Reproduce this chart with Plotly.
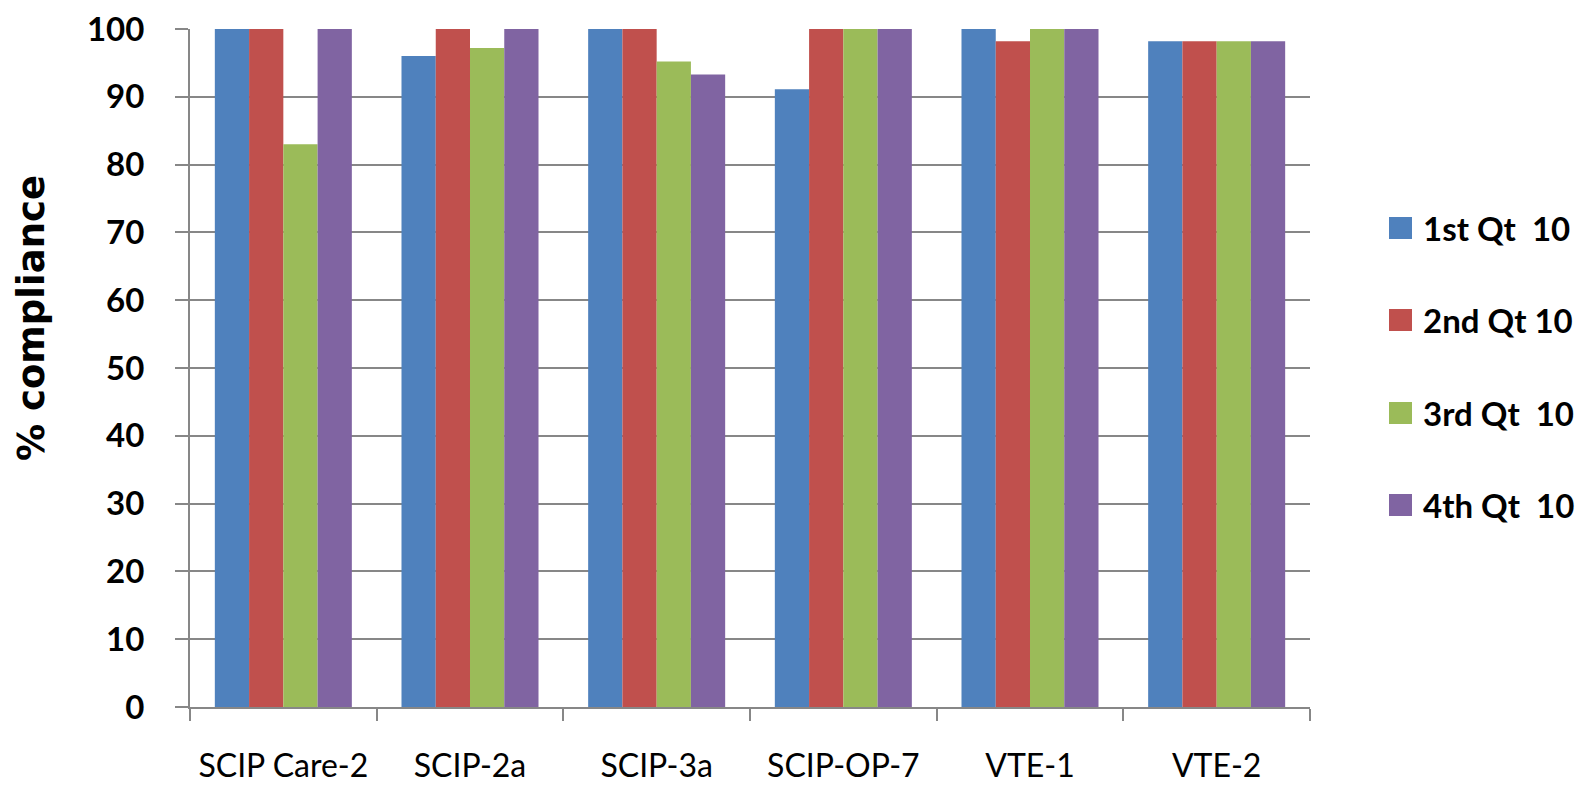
import plotly.graph_objects as go

# Core measure categories and quarterly compliance (%)
measures = ["SCIP Care-2", "SCIP-2a", "SCIP-3a", "SCIP-OP-7", "VTE-1", "VTE-2"]
quarters = ["1st Qt  10", "2nd Qt 10", "3rd Qt  10", "4th Qt  10"]
q1 = [100, 96.0, 100, 91.1, 100, 98.2]
q2 = [100, 100, 100, 100, 98.2, 98.2]
q3 = [83.0, 97.2, 95.2, 100, 100, 98.2]
q4 = [100, 100, 93.3, 100, 100, 98.2]
y_ticks = [0, 10, 20, 30, 40, 50, 60, 70, 80, 90, 100]

series = [q1, q2, q3, q4]
colors = ["#4F81BD", "#C0504D", "#9BBB59", "#8064A2"]

W, H = 1591, 787
ML, MR, MT, MB = 190, 281, 29, 80
FONT = "Lato"
GRID = "#878787"

fig = go.Figure()
for name, vals, col in zip(quarters, series, colors):
    fig.add_trace(go.Bar(x=measures, y=vals, name=name, marker_color=col,
                         marker_line_width=0, showlegend=False))

# Legend drawn as colour swatches plus bold labels to the right of the plot
plot_w = W - ML - MR
plot_h = H - MT - MB
row_px = [228, 320, 413, 505]
shapes = []
annotations = []
for name, col, py in zip(quarters, colors, row_px):
    yc = (H - MB - py) / plot_h
    half = 11 / plot_h
    shapes.append(dict(type="rect", xref="paper", yref="paper",
                       x0=(1389 - ML) / plot_w, x1=(1412 - ML) / plot_w,
                       y0=yc - half, y1=yc + half,
                       fillcolor=col, line_width=0))
    annotations.append(dict(text="<b>%s</b>" % name, xref="paper", yref="paper",
                            x=(1422 - ML) / plot_w, y=yc, xanchor="left",
                            yanchor="middle", showarrow=False, borderpad=0,
                            font=dict(family=FONT, size=33, color="black")))

annotations.append(dict(text="<b>% compliance</b>", xref="paper", yref="paper",
                        x=(31 - ML) / plot_w, y=(H - MB - 318) / plot_h,
                        xanchor="center", yanchor="middle", textangle=-90,
                        showarrow=False,
                        font=dict(family="DejaVu Sans", size=37, color="black")))

fig.update_layout(
    width=W, height=H,
    margin=dict(l=ML, r=MR, t=MT, b=MB),
    paper_bgcolor="white", plot_bgcolor="white",
    barmode="group", bargap=0.266, bargroupgap=0,
    shapes=shapes, annotations=annotations,
    font=dict(family=FONT, color="black"),
)
fig.update_xaxes(
    automargin=False,
    showline=True, linecolor=GRID, linewidth=2,
    ticks="outside", tickson="boundaries", ticklen=12, tickcolor=GRID, tickwidth=2,
    tickfont=dict(family=FONT, size=32, color="black"),
    ticklabelstandoff=30, showgrid=False,
)
fig.update_yaxes(
    automargin=False,
    range=[0, 100], tickvals=y_ticks,
    ticktext=["<b>%d</b>" % v for v in y_ticks],
    showline=True, linecolor=GRID, linewidth=2,
    ticks="outside", ticklen=13, tickcolor=GRID, tickwidth=2,
    showgrid=True, gridcolor=GRID, gridwidth=2,
    tickfont=dict(family=FONT, size=33, color="black"),
    ticklabelstandoff=24, zeroline=False,
)

fig.write_html("out.html")
